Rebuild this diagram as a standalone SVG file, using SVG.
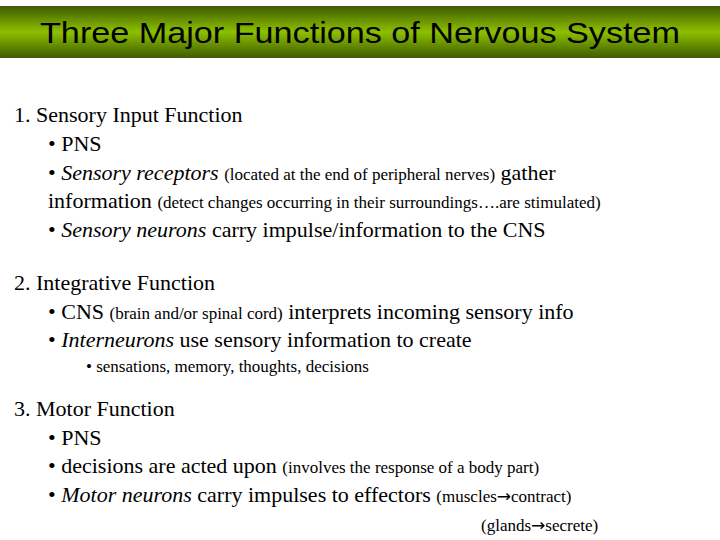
<svg xmlns="http://www.w3.org/2000/svg" width="720" height="540" viewBox="0 0 720 540">
<defs>
<linearGradient id="g" x1="0" y1="0" x2="0" y2="1">
<stop offset="0" stop-color="#3f5a00"/>
<stop offset="0.5" stop-color="#8dc000"/>
<stop offset="1" stop-color="#3f5a00"/>
</linearGradient>
</defs>
<rect width="720" height="540" fill="#fff"/>
<g id="title">
<rect x="0" y="6" width="720" height="52" fill="url(#g)"/>
<text x="360" y="43" text-anchor="middle" font-family="'Liberation Sans', 'DejaVu Sans', sans-serif" font-size="30" textLength="640" lengthAdjust="spacingAndGlyphs">Three Major Functions of Nervous System</text>
</g>
<g id="body" font-family="'Liberation Serif', 'DejaVu Serif', serif" font-size="22" fill="#000">
<text x="14" y="122">1. Sensory Input Function</text>
<text x="48" y="151">• PNS</text>
<text x="48" y="180">• <tspan font-style="italic">Sensory receptors</tspan> <tspan font-size="17">(located at the end of peripheral nerves)</tspan> gather</text>
<text x="48" y="208">information <tspan font-size="17">(detect changes occurring in their surroundings….are stimulated)</tspan></text>
<text x="48" y="237">• <tspan font-style="italic">Sensory neurons</tspan> carry impulse/information to the CNS</text>
<text x="14" y="290">2. Integrative Function</text>
<text x="48" y="319">• CNS <tspan font-size="17">(brain and/or spinal cord)</tspan> interprets incoming sensory info</text>
<text x="48" y="347">• <tspan font-style="italic">Interneurons</tspan> use sensory information to create</text>
<text x="86" y="372" font-size="17">• sensations, memory, thoughts, decisions</text>
<text x="14" y="416">3. Motor Function</text>
<text x="48" y="445">• PNS</text>
<text x="48" y="473">• decisions are acted upon <tspan font-size="17">(involves the response of a body part)</tspan></text>
<text x="48" y="502">• <tspan font-style="italic">Motor neurons</tspan> carry impulses to effectors <tspan font-size="17">(muscles<tspan font-family="'DejaVu Sans', sans-serif">→</tspan>contract)</tspan></text>
<text x="481" y="531" font-size="17">(glands<tspan font-family="'DejaVu Sans', sans-serif">→</tspan>secrete)</text>
</g>
</svg>
